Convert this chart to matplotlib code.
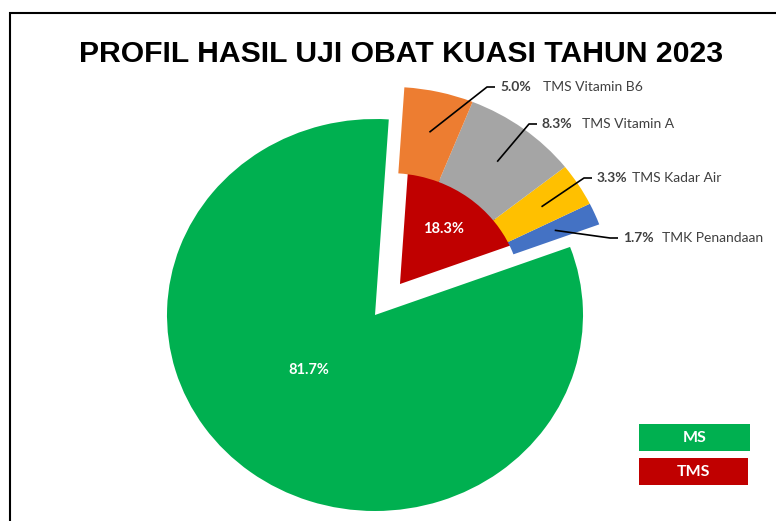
import matplotlib
matplotlib.use("Agg")
import matplotlib.pyplot as plt
import numpy as np
from matplotlib.patches import Rectangle

W, H = 776, 521

main_labels = ["MS", "TMS"]
main_values = [81.7, 18.3]
sub_labels = ["TMK Penandaan", "TMS Kadar Air", "TMS Vitamin A", "TMS Vitamin B6"]
sub_values = [1.7, 3.3, 8.3, 5.0]

GREEN = "#00B050"
RED = "#C00000"
sub_colors = ["#4472C4", "#FFC000", "#A5A5A5", "#ED7D31"]
TEXT = "#404040"

# label placement for the TMS breakdown (pixels from top-left)
pct_x = [623, 597, 542, 500]
name_x = [662, 632, 582, 543]
label_y = [238, 178, 124, 87]

# pie centre in pixels; the chart is drawn slightly wider than tall
CX, CY = 375, 315
RX, RY = 208, 196
START = 86.2

plt.rcParams["font.family"] = ["Lato", "DejaVu Sans"]


def to_data(x, y):
    return (x - CX) / RX, (CY - y) / RY


def to_fig(x, y):
    return x / W, 1 - y / H


fig = plt.figure(figsize=(W / 100, H / 100), dpi=100)
ax = fig.add_axes([0, 0, 1, 1])

flat = dict(linewidth=0)
ax.pie(main_values, colors=[GREEN, "none"], startangle=START,
       radius=1.0, wedgeprops=flat)
red, _ = ax.pie(main_values, colors=["none", RED], startangle=START,
                radius=0.566, center=(0.12, 0.158), wedgeprops=flat)
ring, _ = ax.pie([main_values[0]] + sub_values, colors=["none"] + sub_colors,
                 startangle=START, radius=1.075, center=(0.07, 0.089),
                 wedgeprops=dict(width=0.44, linewidth=0))

ax.set_aspect("auto")
ax.set_xlim(-CX / RX, (W - CX) / RX)
ax.set_ylim(-(H - CY) / RY, CY / RY)
ax.axis("off")

# value labels inside the two main slices
ax.text(*to_data(309, 370), f"{main_values[0]:.1f}%", color="white",
        fontsize=10.5, fontweight="bold", ha="center", va="center")
w = red[1]
mid = np.deg2rad((w.theta1 + w.theta2) / 2)
ax.text(w.center[0] + 0.35 * np.cos(mid), w.center[1] + 0.35 * np.sin(mid),
        f"{main_values[1]:.1f}%", color="white",
        fontsize=10.5, fontweight="bold", ha="center", va="center")

# leader lines and labels for the breakdown ring
for w, val, name, px, nx, py in zip(ring[1:], sub_values, sub_labels,
                                    pct_x, name_x, label_y):
    mid = np.deg2rad((w.theta1 + w.theta2) / 2)
    sx = w.center[0] + 0.865 * np.cos(mid)
    sy = w.center[1] + 0.865 * np.sin(mid)
    ex, ey = to_data(px - 13, py)
    fx, fy = to_data(px - 5, py)
    ax.plot([sx, ex, fx], [sy, ey, fy], color="black", linewidth=1.2,
            solid_capstyle="butt")
    ax.text(*to_data(px, py), f"{val:.1f}%", color=TEXT, fontsize=10,
            fontweight="bold", ha="left", va="center")
    ax.text(*to_data(nx, py), name, color=TEXT, fontsize=10,
            ha="left", va="center")

fig.text(*to_fig(401, 54), "PROFIL HASIL UJI OBAT KUASI TAHUN 2023",
         fontsize=21.7, fontweight="bold", ha="center", va="center",
         family=["Liberation Sans", "DejaVu Sans"])

# MS / TMS key boxes
for lab, col, (x0, y0, x1, y1) in zip(main_labels, [GREEN, RED],
                                      [(639, 424, 750, 451), (639, 458, 748, 485)]):
    fx0, fy1 = to_fig(x0, y1)
    fig.add_artist(Rectangle((fx0, fy1), (x1 - x0) / W, (y1 - y0) / H,
                             transform=fig.transFigure, facecolor=col,
                             edgecolor="none"))
    fig.text(*to_fig((x0 + x1) / 2, (y0 + y1) / 2), lab, color="white",
             fontsize=11.5, fontweight="bold", ha="center", va="center")

# chart border (runs off the right and bottom edges)
fig.add_artist(Rectangle((10 / W, -0.05), 1.1, 1 - 13 / H + 0.05,
                         transform=fig.transFigure, fill=False,
                         edgecolor="black", linewidth=1.5))

fig.savefig("out.png", dpi=100)
